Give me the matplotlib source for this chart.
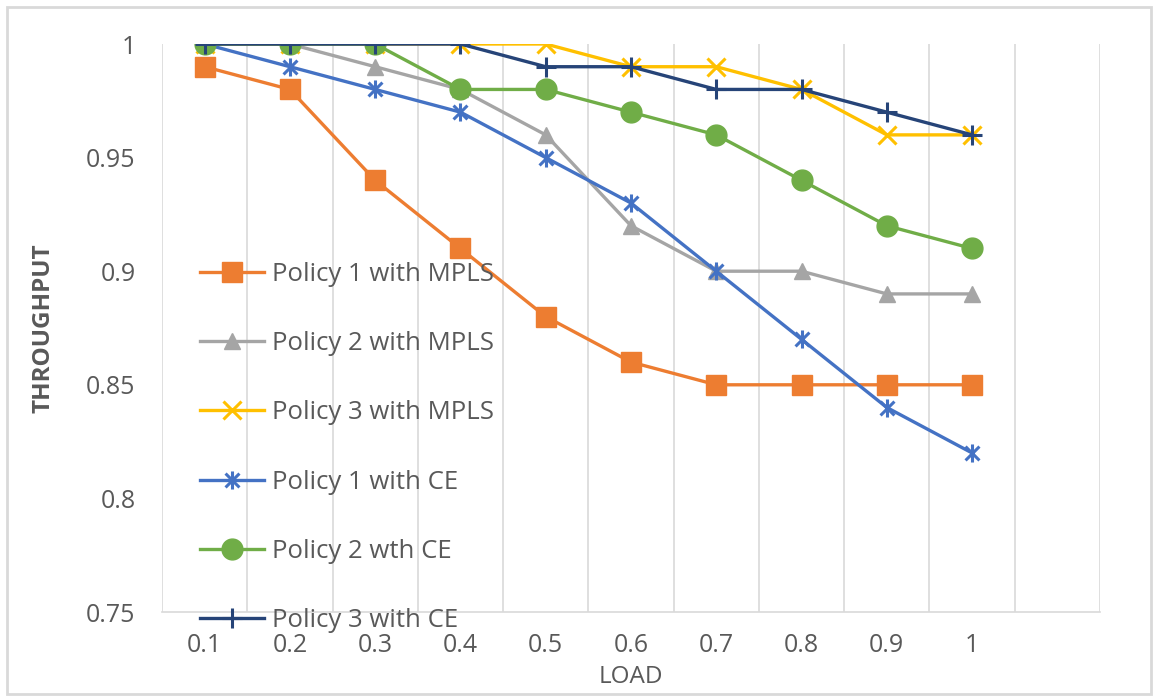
import matplotlib
matplotlib.use("Agg")
import matplotlib.pyplot as plt
import numpy as np
from matplotlib.path import Path
from matplotlib.patches import Rectangle

# data
loads = ["0.1", "0.2", "0.3", "0.4", "0.5", "0.6", "0.7", "0.8", "0.9", "1"]
p1_mpls = [0.99, 0.98, 0.94, 0.91, 0.88, 0.86, 0.85, 0.85, 0.85, 0.85]
p2_mpls = [1.00, 1.00, 0.99, 0.98, 0.96, 0.92, 0.90, 0.90, 0.89, 0.89]
p3_mpls = [1.00, 1.00, 1.00, 1.00, 1.00, 0.99, 0.99, 0.98, 0.96, 0.96]
p1_ce = [1.00, 0.99, 0.98, 0.97, 0.95, 0.93, 0.90, 0.87, 0.84, 0.82]
p2_ce = [1.00, 1.00, 1.00, 0.98, 0.98, 0.97, 0.96, 0.94, 0.92, 0.91]
p3_ce = [1.00, 1.00, 1.00, 1.00, 0.99, 0.99, 0.98, 0.98, 0.97, 0.96]
y_ticks = [0.75, 0.8, 0.85, 0.9, 0.95, 1.0]
y_labels = ["0.75", "0.8", "0.85", "0.9", "0.95", "1"]

plt.rcParams['font.family'] = ['Open Sans', 'DejaVu Sans']
txt = '#595959'

# excel style star marker: x with a vertical bar
star = Path([(-1, -1), (1, 1), (-1, 1), (1, -1), (0, -1.3), (0, 1.3)],
            [Path.MOVETO, Path.LINETO, Path.MOVETO, Path.LINETO, Path.MOVETO, Path.LINETO])

fig = plt.figure(figsize=(11.58, 6.98), dpi=100)
ax = fig.add_axes([162/1158, 1-612/698, (1100-162)/1158, (612-44)/698])

x = np.arange(len(loads))
lw = 2.4
ax.plot(x, p1_mpls, color='#ED7D31', lw=lw, marker='s', ms=15, label='Policy 1 with MPLS')
ax.plot(x, p2_mpls, color='#A5A5A5', lw=lw, marker='^', ms=12, label='Policy 2 with MPLS')
ax.plot(x, p3_mpls, color='#FFC000', lw=lw, marker='x', ms=13, mew=2.2, label='Policy 3 with MPLS')
ax.plot(x, p1_ce, color='#4472C4', lw=lw, marker=star, ms=13, mew=2.2, mfc='none', label='Policy 1 with CE')
ax.plot(x, p2_ce, color='#70AD47', lw=lw, marker='o', ms=15, label='Policy 2 wth CE')
ax.plot(x, p3_ce, color='#264478', lw=lw, marker='+', ms=15, mew=2.2, label='Policy 3 with CE')

ax.set_xlim(-0.5, len(loads) + 0.5)
ax.set_ylim(0.75, 1.0)
ax.set_xticks(x)
ax.set_xticklabels(loads)
ax.set_xticks(np.arange(-0.5, len(loads) + 1), minor=True)
ax.grid(True, axis='x', which='minor', color='#D9D9D9', lw=1.2)
ax.set_yticks(y_ticks)
ax.set_yticklabels(y_labels)
ax.tick_params(axis='both', which='both', length=0, labelsize=18, colors=txt)
ax.tick_params(axis='y', pad=19)
ax.tick_params(axis='x', pad=15)

for s in ['top', 'right', 'left']:
    ax.spines[s].set_visible(False)
ax.spines['bottom'].set_color('#D9D9D9')
ax.spines['bottom'].set_linewidth(1.2)

fig.text(44/1158, 1-328/698, 'THROUGHPUT', rotation=90, ha='center', va='center',
         fontsize=17.5, fontweight='bold', color=txt)
fig.text(631/1158, 1-677/698, 'LOAD', ha='center', va='center',
         fontsize=17.5, color=txt)

fig.legend(loc='upper left', bbox_to_anchor=(200/1158, 1-262/698), frameon=False,
           fontsize=18.5, labelcolor=txt, handlelength=2.5, handletextpad=0.3,
           labelspacing=1.72, borderpad=0, borderaxespad=0)

fig.patches.append(Rectangle((7/1158, 4/698), 1144/1158, 687/698, transform=fig.transFigure,
                             fill=False, edgecolor='#D9D9D9', lw=2))

fig.savefig('out.png', dpi=100)
